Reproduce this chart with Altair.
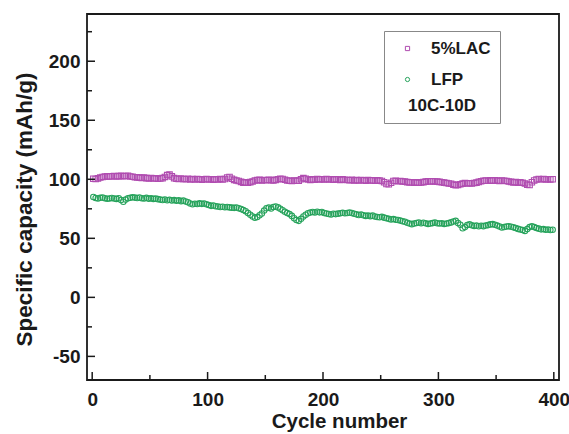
import altair as alt
import pandas as pd

# ---- data ----
cycles = list(range(1, 400, 2))

lac = [
    100.5, 100.2, 100.8, 101.5, 102.0, 102.3, 102.5, 102.4, 102.6, 102.8,
    102.5, 102.7, 102.9, 102.6, 102.8, 103.0, 102.4, 102.1, 101.8, 101.6,
    101.4, 101.2, 101.5, 101.0, 100.8, 101.1, 100.6, 100.9, 100.4, 100.7,
    101.0, 102.0, 103.5, 104.0, 102.5, 101.0, 100.5, 100.2, 100.6, 100.3,
    100.0, 100.4, 99.8, 100.2, 99.9, 100.3, 100.1, 99.7, 100.0, 100.2,
    99.8, 100.1, 99.7, 100.0, 99.9, 100.3, 99.8, 100.2, 101.5, 102.0,
    100.5, 99.5, 99.0, 98.5, 97.8, 97.2, 97.5, 97.0, 97.6, 98.2,
    99.0, 99.3, 99.5, 99.1, 99.4, 99.2, 99.6, 99.3, 99.0, 99.5,
    100.0, 100.5, 100.2, 99.6, 99.0, 98.8, 98.6, 99.0, 98.7, 98.9,
    100.0, 101.0, 100.5, 99.8, 99.5, 100.0, 99.7, 100.2, 99.9, 100.1,
    99.8, 100.2, 99.9, 100.0, 99.6, 100.1, 99.8, 99.5, 99.9, 99.6,
    99.4, 99.2, 99.5, 99.1, 99.3, 99.0, 99.4, 99.2, 98.9, 99.3,
    99.0, 99.2, 98.8, 99.1, 98.9, 98.5, 97.5, 96.0, 95.8, 97.0,
    98.5, 98.7, 98.3, 98.6, 98.2, 98.0, 97.6, 97.3, 97.5, 97.2,
    97.4, 97.0, 97.3, 97.6, 98.0, 98.3, 98.1, 98.4, 98.2, 98.0,
    97.8, 97.5, 97.2, 96.8, 96.5, 96.2, 95.5, 95.0, 95.3, 95.8,
    96.3, 96.8, 96.5, 96.7, 96.4, 96.8, 97.2, 97.8, 98.3, 98.8,
    99.0, 98.7, 99.1, 98.8, 99.2, 98.9, 98.6, 99.0, 98.8, 98.5,
    98.2, 97.8, 97.4, 97.6, 97.2, 97.5, 97.0, 96.5, 95.5, 95.2,
    97.5, 99.0, 99.8, 100.2, 100.0, 100.3, 99.8, 100.1, 99.9, 100.0,
]

lfp = [
    85.0, 84.2, 83.8, 84.3, 84.6, 84.0, 83.5, 83.8, 84.1, 83.7,
    83.4, 83.9, 82.5, 81.0, 82.8, 84.0, 84.3, 84.8, 84.5, 84.2,
    84.6, 84.0, 83.8, 84.3, 83.6, 83.9, 83.4, 83.7, 83.2, 82.8,
    82.5, 82.9, 82.3, 82.6, 82.0, 82.4, 81.8, 82.2, 81.5, 81.9,
    81.2, 80.5, 79.5, 78.8, 79.3, 79.0, 79.6, 79.2, 79.5, 78.8,
    78.2, 77.5, 77.8, 77.2, 77.0, 76.5, 76.8, 76.3, 76.6, 76.2,
    76.0, 75.8, 76.1, 75.5, 74.8, 74.0, 73.0, 71.5, 70.0, 68.5,
    67.5, 68.0, 69.5, 71.0, 73.5, 75.5, 76.0, 75.2, 76.5, 77.0,
    76.2, 75.0, 73.8, 72.5, 71.5, 70.5, 69.0, 67.0, 65.5, 64.8,
    66.5, 68.5, 70.0, 71.2, 71.8, 72.3, 71.9, 72.5, 72.0, 72.3,
    71.5, 71.0, 70.6, 70.2, 70.8, 70.5, 70.9, 71.3, 71.6, 71.2,
    71.5, 71.8, 71.4, 70.8, 70.3, 69.8, 70.1, 69.5, 69.0, 69.4,
    68.8, 69.2, 68.5, 68.0, 67.8, 68.2, 67.5, 67.0, 66.5, 66.0,
    66.3, 65.8, 65.5, 65.0, 64.5, 64.0, 63.2, 62.5, 62.0, 62.6,
    63.0, 63.4, 62.8, 63.2, 62.7, 62.2, 62.6, 62.9, 63.3, 62.8,
    62.5, 62.8, 62.2, 62.6, 62.9, 63.5, 64.2, 64.8, 63.0, 61.5,
    58.5, 59.5, 61.2, 61.8, 61.0, 60.5, 60.8, 60.2, 60.6, 60.3,
    60.8, 61.2, 61.8, 62.0, 61.5, 60.8, 60.0, 59.2, 59.6, 60.0,
    60.2, 59.8, 59.3, 58.8, 58.0, 57.5, 57.0, 56.3, 57.8, 59.5,
    60.2, 59.5, 58.8, 58.2, 57.6, 57.8, 57.2, 57.5, 57.0, 57.3,
]

series_names = ["5%LAC", "LFP"]
series_colors = ["#b04cb0", "#27a35c"]
series_shapes = ["square", "circle"]
legend_title = "10C-10D"

x_major = [0, 100, 200, 300, 400]
x_minor = [50, 150, 250, 350]
y_major = [-50, 0, 50, 100, 150, 200]
y_minor = [-25, 25, 75, 125, 175, 225]

df = pd.DataFrame({
    "cycle": cycles + cycles,
    "cap": lac + lfp,
    "series": [series_names[0]] * len(cycles) + [series_names[1]] * len(cycles),
})

W, H = 472, 366
INK = "#1a1a1a"
FONT = "Liberation Sans"

xscale = alt.Scale(domain=[-4.5, 404.5], nice=False, zero=False)
yscale = alt.Scale(domain=[-70, 240], nice=False, zero=False)


def x_axis():
    return alt.Axis(values=x_major, title="Cycle number", labelExpr="'' + datum.value",
                    labelPadding=10, titlePadding=2, titleX=252, titleFontSize=20.5)


def y_axis():
    return alt.Axis(values=y_major, title="Specific capacity (mAh/g)",
                    labelExpr="'' + datum.value",
                    labelPadding=7, titlePadding=12, titleY=195, titleFontSize=22.5)


def make_legend():
    return alt.Legend(
        title=legend_title,
        orient="none",
        legendX=297,
        legendY=17,
        titleOrient="bottom",
        titleAnchor="middle",
        titleFont=FONT,
        titleFontSize=17,
        titleFontWeight="bold",
        titleColor=INK,
        titlePadding=10,
        labelFont=FONT,
        labelFontSize=17,
        labelFontWeight="bold",
        labelColor=INK,
        labelOffset=15,
        symbolSize=18,
        symbolStrokeWidth=1,
        symbolOffset=6,
        rowPadding=13,
        padding=9,
        strokeColor="#888888",
        fillColor="white",
    )


points = alt.Chart(df).mark_point(filled=False, size=30, strokeWidth=1.1, opacity=1).encode(
    x=alt.X("cycle:Q", scale=xscale, axis=x_axis()),
    y=alt.Y("cap:Q", scale=yscale, axis=y_axis()),
    color=alt.Color("series:N", scale=alt.Scale(domain=series_names, range=series_colors),
                    legend=make_legend()),
    shape=alt.Shape("series:N", scale=alt.Scale(domain=series_names, range=series_shapes),
                    legend=make_legend()),
)

x_major_ticks = alt.Chart(pd.DataFrame({"cycle": x_major})).mark_rule(color=INK, strokeWidth=1.5).encode(
    x=alt.X("cycle:Q", scale=xscale, axis=x_axis()), y=alt.value(H), y2=alt.value(H - 8))
x_minor_ticks = alt.Chart(pd.DataFrame({"cycle": x_minor})).mark_rule(color=INK, strokeWidth=1.5).encode(
    x=alt.X("cycle:Q", scale=xscale, axis=x_axis()), y=alt.value(H), y2=alt.value(H - 5))
y_major_ticks = alt.Chart(pd.DataFrame({"cap": y_major})).mark_rule(color=INK, strokeWidth=1.5).encode(
    y=alt.Y("cap:Q", scale=yscale, axis=y_axis()), x=alt.value(0), x2=alt.value(8))
y_minor_ticks = alt.Chart(pd.DataFrame({"cap": y_minor})).mark_rule(color=INK, strokeWidth=1.5).encode(
    y=alt.Y("cap:Q", scale=yscale, axis=y_axis()), x=alt.value(0), x2=alt.value(5))

chart = alt.layer(
    points, x_major_ticks, x_minor_ticks, y_major_ticks, y_minor_ticks
).properties(
    width=W,
    height=H,
    background="white",
    autosize=alt.AutoSizeParams(type="none"),
    padding={"left": 87, "top": 14, "right": 10, "bottom": 54},
).configure_axis(
    labelFont=FONT,
    labelFontWeight="bold",
    labelFontSize=19,
    labelColor=INK,
    titleFont=FONT,
    titleFontWeight="bold",
    titleColor=INK,
    domain=False,
    ticks=False,
    tickSize=0,
    grid=False,
).configure_view(
    stroke=INK,
    strokeWidth=1.8,
)

chart.save("out.html", embed_options={"renderer": "svg", "actions": False})
